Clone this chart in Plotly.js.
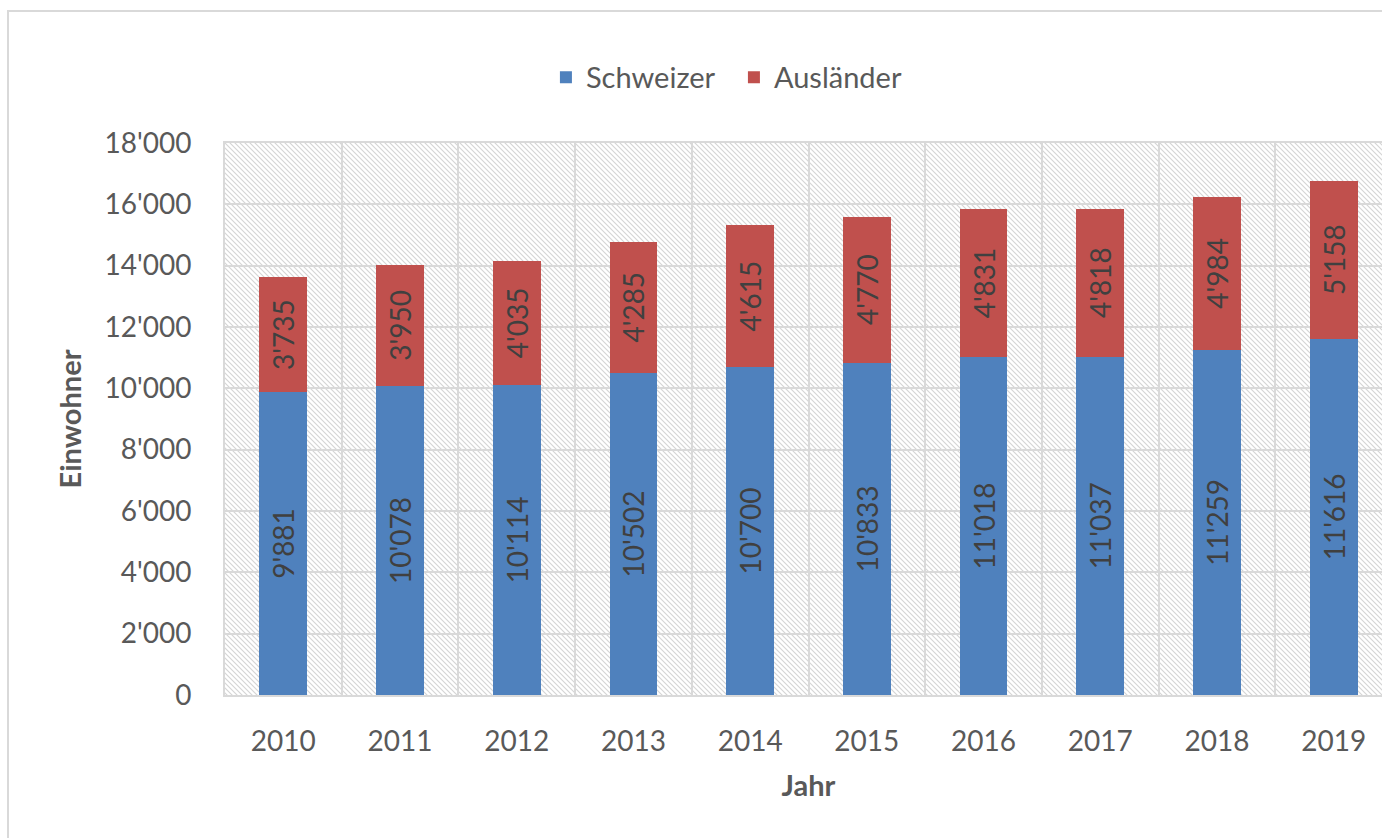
<!DOCTYPE html>
<html>
<head>
<meta charset="utf-8">
<script src="https://cdn.plot.ly/plotly-3.0.1.min.js"></script>
<style>
html,body{margin:0;padding:0;overflow:hidden;background:#fff;width:1382px;height:838px;}
#wrap{position:relative;width:1382px;height:838px;overflow:hidden;}
#chart{position:absolute;left:0;top:0;width:1400px;height:838px;}
#frame{position:absolute;left:7px;top:10px;width:1500px;height:900px;border:2px solid #d9d9d9;box-sizing:border-box;pointer-events:none;}
</style>
</head>
<body>
<div id="wrap"><div id="chart"></div><div id="frame"></div></div>
<script>
const years = ['2010','2011','2012','2013','2014','2015','2016','2017','2018','2019'];
const schweizer = [9881,10078,10114,10502,10700,10833,11018,11037,11259,11616];
const auslaender = [3735,3950,4035,4285,4615,4770,4831,4818,4984,5158];
const seriesNames = ['Schweizer','Ausländer'];
const seriesColors = ['#4F81BD','#C0504D'];

const W = 1167, H = 552;
const svg = '<svg xmlns="http://www.w3.org/2000/svg" width="'+W+'" height="'+H+'">' +
  '<defs><pattern id="p" patternUnits="userSpaceOnUse" width="5" height="5">' +
  '<rect width="5" height="5" fill="#ffffff"/>' +
  '<path d="M-1,-1 L6,6 M-1,4 L1,6 M4,-1 L6,1" stroke="#d4d4d4" stroke-width="1.1"/>' +
  '</pattern></defs><rect width="'+W+'" height="'+H+'" fill="url(#p)"/></svg>';
const imgSrc = 'data:image/svg+xml;charset=utf-8,' + encodeURIComponent(svg);

const fontFam = 'Lato, "Open Sans", sans-serif';
const textCol = '#595959';

function mk(vals, i){
  return {
    type:'bar', x: years, y: vals, name: seriesNames[i],
    marker:{color: seriesColors[i], line:{width:0}},
    width: 0.41,
    texttemplate: '%{y:,d}', textposition:'inside', insidetextanchor:'middle',
    textangle: -90, constraintext:'none',
    insidetextfont:{family: fontFam, size: 28, color:'#404040'},
    hoverinfo:'skip'
  };
}

const data = [mk(schweizer,0), mk(auslaender,1)];

const layout = {
  width: 1400, height: 838,
  margin:{l:225, r:8, t:143, b:143},
  barmode:'stack',
  separators: ".'",
  paper_bgcolor:'rgba(0,0,0,0)',
  plot_bgcolor:'rgba(0,0,0,0)',
  font:{family: fontFam, size: 28, color: textCol},
  showlegend:true,
  legend:{orientation:'h', x:0.275, xanchor:'left', y:1.119, yanchor:'middle',
          font:{family: fontFam, size: 29, color: textCol}, itemclick:false, traceorder:'normal',
          entrywidth: 143},
  xaxis:{
    type:'category', tickson:'boundaries', showgrid:true, gridcolor:'#d9d9d9', gridwidth:2,
    showline:true, mirror:true, linecolor:'#d9d9d9', linewidth:2, ticks:'',
    ticklabelstandoff: 20,
    tickfont:{family: fontFam, size: 28, color: textCol},
    title:{text:'Jahr', font:{family: fontFam, size: 29, color: textCol, weight:'bold'}, standoff: 20}
  },
  yaxis:{
    range:[0,18000], dtick:2000, tick0:0, tickformat:',d',
    showgrid:true, gridcolor:'#d9d9d9', gridwidth:2, zeroline:false,
    showline:true, mirror:true, linecolor:'#d9d9d9', linewidth:2, ticks:'',
    ticklabelstandoff: 26,
    tickfont:{family: fontFam, size: 28, color: textCol},
    title:{text:'Einwohner', font:{family: fontFam, size: 29, color: textCol, weight:'bold'}, standoff: 14}
  },
  images:[{source: imgSrc, xref:'paper', yref:'paper', x:0, y:1, sizex:1, sizey:1,
           xanchor:'left', yanchor:'top', sizing:'stretch', layer:'below'}]
};

Plotly.newPlot('chart', data, layout, {displayModeBar:false, staticPlot:true});
</script>
</body>
</html>
